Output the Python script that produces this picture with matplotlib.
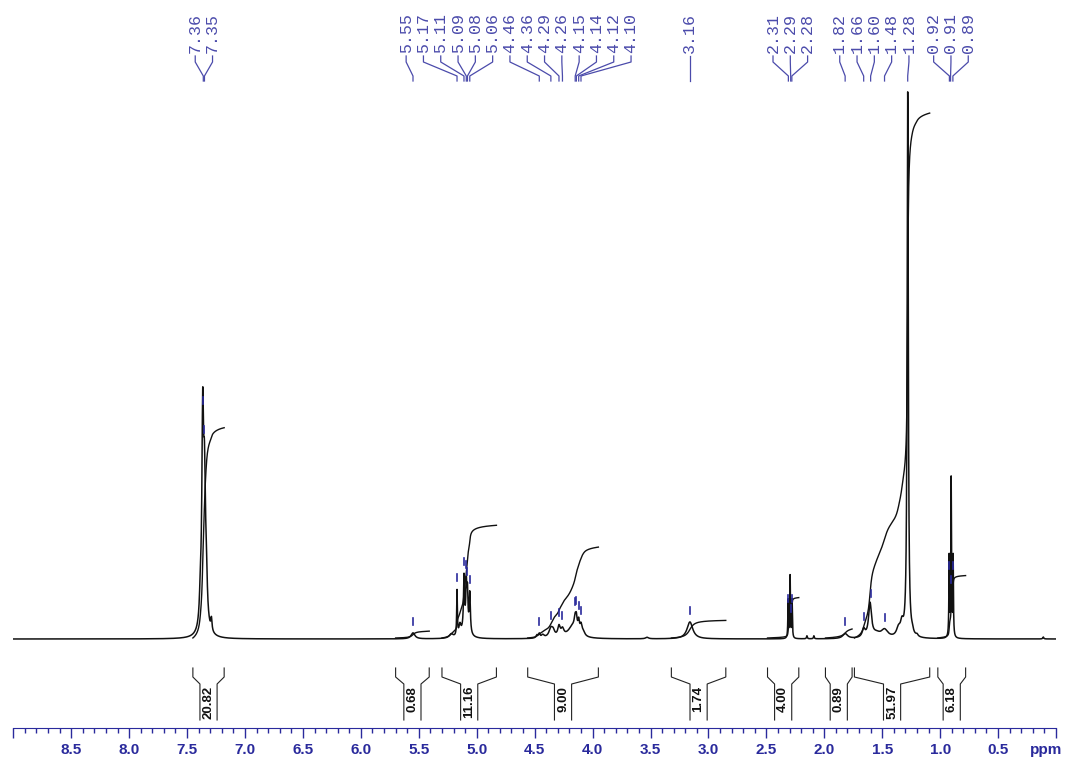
import numpy as np
import matplotlib.pyplot as plt
from matplotlib.ticker import MultipleLocator

plt.rcParams['font.family'] = ['Liberation Sans', 'DejaVu Sans']

# peaks: shift (ppm), height above baseline, line width (ppm)
peak_ppm = [7.385, 7.365, 7.350, 7.335, 7.290, 7.350,
            5.550, 5.220, 5.170, 5.145, 5.110, 5.090, 5.080, 5.060, 5.100,
            4.480, 4.460, 4.430, 4.360, 4.340, 4.290, 4.260, 4.170, 4.150, 4.140, 4.120, 4.100, 4.080,
            3.530, 3.160,
            2.312, 2.295, 2.278, 2.150, 2.090,
            1.820, 1.660, 1.605, 1.550, 1.480, 1.360, 1.330, 1.280, 1.240, 1.200,
            0.922, 0.905, 0.888, 0.110]
peak_height = [25, 200, 115, 45, 12, 14,
               6, 4, 45, 10, 50, 40, 35, 40, 12,
               3, 4, 3, 9, 5, 10, 7, 12, 11, 10, 11, 9, 4,
               1.5, 17,
               38, 62, 38, 3, 3,
               5, 8, 34, 4, 8, 8, 12, 545, 3, 2,
               80, 158, 80, 2]
peak_width = [0.02, 0.018, 0.018, 0.02, 0.012, 0.06,
              0.04, 0.04, 0.007, 0.02, 0.01, 0.01, 0.01, 0.012, 0.06,
              0.02, 0.015, 0.03, 0.04, 0.03, 0.025, 0.03, 0.1, 0.02, 0.015, 0.015, 0.02, 0.03,
              0.03, 0.06,
              0.006, 0.006, 0.006, 0.008, 0.008,
              0.05, 0.03, 0.03, 0.08, 0.07, 0.04, 0.03, 0.012, 0.02, 0.02,
              0.006, 0.006, 0.006, 0.01]

# picked peaks printed along the top
pick_ppm = [7.36, 7.35, 5.55, 5.17, 5.11, 5.09, 5.08, 5.06, 4.46, 4.36, 4.29, 4.26,
            4.15, 4.14, 4.12, 4.10, 3.16, 2.31, 2.29, 2.28, 1.82, 1.66, 1.60, 1.48,
            1.28, 0.92, 0.91, 0.89]

# integral regions
int_from = [7.45, 5.70, 5.30, 4.56, 3.32, 2.49, 1.99, 1.74, 1.02]
int_to = [7.18, 5.41, 4.83, 3.95, 2.85, 2.22, 1.76, 1.09, 0.78]
int_value = [20.82, 0.68, 11.16, 9.00, 1.74, 4.00, 0.89, 51.97, 6.18]

BLUE = '#2a2a9c'
PICK = '#4b4bab'
INK = '#111111'

ppm = np.linspace(9.0, 0.0, 18001)
spec = np.zeros_like(ppm)
for p, h, w in zip(peak_ppm, peak_height, peak_width):
    spec += h / (1 + ((ppm - p) / (w / 2)) ** 2)


def spec_at(p):
    return np.interp(p, ppm[::-1], spec[::-1])


def spread(pos, gap):
    """push labels apart so they keep at least `gap` between them"""
    groups = [[p] for p in pos]
    changed = True
    while changed:
        changed = False
        for i in range(len(groups) - 1):
            g1, g2 = groups[i], groups[i + 1]
            low1 = np.mean(g1) - (len(g1) - 1) / 2 * gap
            high2 = np.mean(g2) + (len(g2) - 1) / 2 * gap
            if low1 - high2 < gap:
                groups[i] = g1 + g2
                del groups[i + 1]
                changed = True
                break
    out = []
    for g in groups:
        c = np.mean(g)
        out += [c + ((len(g) - 1) / 2 - k) * gap for k in range(len(g))]
    return out


fig = plt.figure(figsize=(10.72, 7.61), dpi=100)
ax = fig.add_axes([13.3 / 1072, 33 / 761, 1042.7 / 1072, 728 / 761])
ax.set_xlim(9.0, 0.0)
ax.set_ylim(-89, 639)

ax.plot(ppm, spec, color=INK, lw=1.1)

# integral curves + brackets underneath
scale = 10.1
hw = 0.074
for a, b, v in zip(int_from, int_to, int_value):
    m = (ppm <= a) & (ppm >= b)
    c = np.cumsum(spec[m])
    c = c / c[-1] * v * scale + 1
    ax.plot(ppm[m], c, color=INK, lw=1.0)
    mid = (a + b) / 2
    ax.plot([a, a, mid + hw, mid + hw], [-29, -38, -45, -81], color='#222222', lw=0.8)
    ax.plot([b, b, mid - hw, mid - hw], [-29, -38, -45, -81], color='#222222', lw=0.8)
    ax.text(mid, -47, f'{v:.2f}', rotation=90, ha='center', va='top',
            fontsize=9.5, fontweight='bold', color=INK)

# peak picking labels
label_x = spread(pick_ppm, 17.3 / 115.85)
for lx, p in zip(label_x, pick_ppm):
    ax.plot([lx, lx, p, p], [583, 577, 563, 558], color=PICK, lw=0.9)
    ax.text(lx, 586, f'{p:.2f}', rotation=90, ha='center', va='bottom',
            family='Liberation Mono', fontsize=12, color=PICK)
    s = spec_at(p)
    if s + 8 < 552:
        ax.plot([p, p], [s + 8, s + 15], color=BLUE, lw=1.2)

# ppm axis
for side in ['left', 'right', 'top']:
    ax.spines[side].set_visible(False)
ax.spines['bottom'].set_color(BLUE)
ax.set_yticks([])
ticks = np.arange(0, 9.01, 0.5)
ax.set_xticks(ticks, ['' if t < 0.01 or t > 8.99 else f'{t:.1f}' for t in ticks],
              fontweight='bold')
ax.xaxis.set_minor_locator(MultipleLocator(0.1))
ax.tick_params(axis='x', which='major', direction='out', length=7, width=1,
               colors=BLUE, labelsize=11, pad=4)
ax.tick_params(axis='x', which='minor', direction='out', length=3.5, width=1, colors=BLUE)
ax.text(0.085, -111, 'ppm', ha='center', va='center', fontsize=11,
        fontweight='bold', color=BLUE)

fig.savefig('out.png', dpi=100)
